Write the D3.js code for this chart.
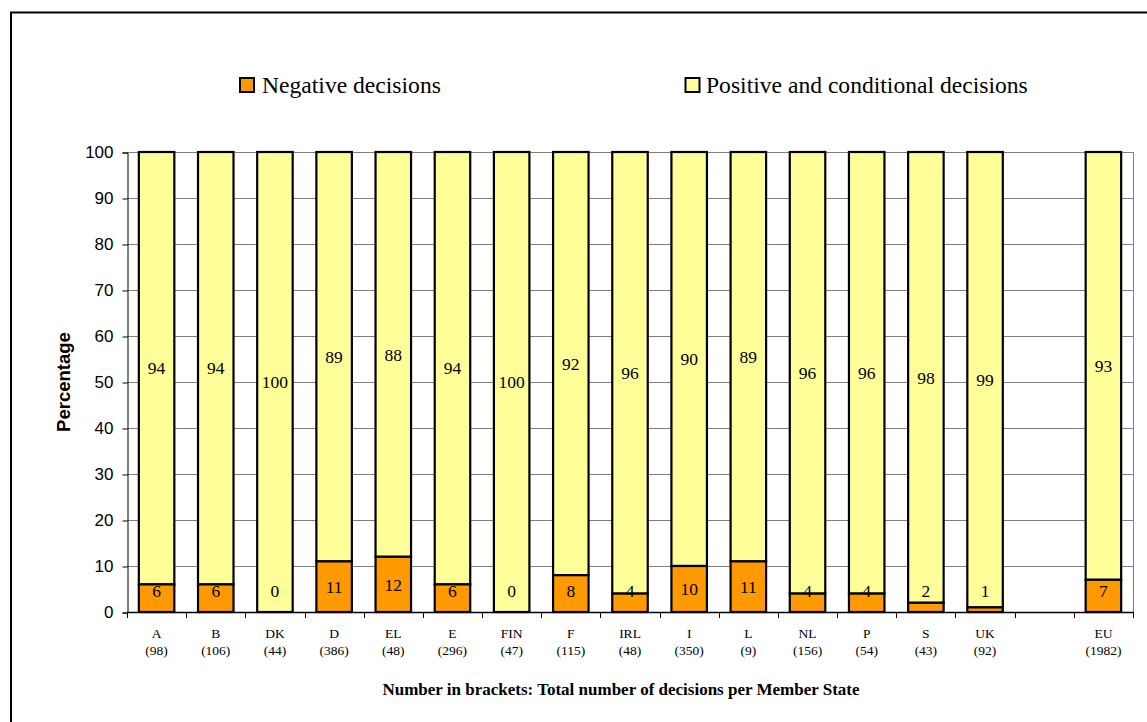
<!DOCTYPE html>
<html>
<head>
<meta charset="utf-8">
<script src="https://cdn.jsdelivr.net/npm/d3@7"></script>
<style>
  html, body { margin: 0; padding: 0; background: #fff; }
  svg { display: block; }
  .sans { font-family: "Liberation Sans", Arial, Helvetica, sans-serif; }
</style>
</head>
<body>
<svg id="chart" width="1147" height="722"></svg>
<script>
const categories = ["A","B","DK","D","EL","E","FIN","F","IRL","I","L","NL","P","S","UK","","EU"];
const totals = ["98","106","44","386","48","296","47","115","48","350","9","156","54","43","92","","1982"];
const negative = [6,6,0,11,12,6,0,8,4,10,11,4,4,2,1,null,7];
const positive = [94,94,100,89,88,94,100,92,96,90,89,96,96,98,99,null,93];
const yTicks = [0,10,20,30,40,50,60,70,80,90,100];
const seriesNames = ["Negative decisions","Positive and conditional decisions"];
const colors = ["#FF9900","#FFFF99"];

(function(){
const serifFamily = '"Liberation Serif", "Times New Roman", Times, serif';
const svg = d3.select("#chart");
function serifText(g, tx, ty, size, anchor, str, dy, bold) {
  return g.append("text").attr("x",tx).attr("y",ty)
    .attr("text-anchor",anchor).attr("dy",dy||null)
    .style("font-family",serifFamily).style("font-size",size+"px")
    .style("font-weight",bold?"bold":null).text(str);
}

svg.append("rect").attr("x",11).attr("y",12.5).attr("width",1200).attr("height",800)
  .attr("fill","none").attr("stroke","#000").attr("stroke-width",2);

const pL = 127, pR = 1133, pT = 152, pB = 612;
const x = d3.scaleBand().domain(d3.range(categories.length)).range([pL,pR]).padding(0);
const y = d3.scaleLinear().domain([0,100]).range([pB,pT]);

svg.append("g").selectAll("line").data(yTicks).join("line")
  .attr("x1",pL).attr("x2",pR)
  .attr("y1",d=>y(d)+0.5).attr("y2",d=>y(d)+0.5)
  .attr("stroke","#808080").attr("stroke-width",1);
svg.append("line").attr("x1",pR+0.5).attr("x2",pR+0.5).attr("y1",pT).attr("y2",pB)
  .attr("stroke","#808080").attr("stroke-width",1);

const yAxis = d3.axisLeft(y).tickValues(yTicks).tickSize(5).tickPadding(9);
const gy = svg.append("g").attr("transform",`translate(${pL+0.5},0.5)`).call(yAxis);
gy.attr("font-family",null).attr("font-size",null);
gy.select(".domain").attr("stroke","#000");
gy.selectAll(".tick line").attr("stroke","#000");
gy.selectAll("text").attr("class","sans").style("font-size","17px").attr("fill","#000");

const bw = 35.5;
const idx = d3.range(categories.length).filter(i => negative[i] !== null);
const gb = svg.append("g");
idx.forEach(i => {
  const cx = x(i) + x.bandwidth()/2;
  const n = negative[i], p = positive[i];
  gb.append("rect").attr("x",cx-bw/2).attr("y",y(n+p)).attr("width",bw).attr("height",y(n)-y(n+p))
    .attr("fill",colors[1]).attr("stroke","#000").attr("stroke-width",2.2);
  gb.append("rect").attr("x",cx-bw/2).attr("y",y(n)).attr("width",bw).attr("height",y(0)-y(n))
    .attr("fill",colors[0]).attr("stroke","#000").attr("stroke-width",2.2);
  serifText(gb, cx, (y(n)+y(n+p))/2, 17.5, "middle", p, "0.35em");
  serifText(gb, cx, Math.min((y(0)+y(n))/2,591), 17.5, "middle", n, "0.35em");
});

svg.append("line").attr("x1",pL).attr("x2",pR+1).attr("y1",pB+0.5).attr("y2",pB+0.5)
  .attr("stroke","#000").attr("stroke-width",1.5);
const bounds = d3.range(categories.length+1).map(i => i < categories.length ? x(i) : pR);
svg.append("g").selectAll("line").data(bounds).join("line")
  .attr("x1",d=>Math.round(d)+0.5).attr("x2",d=>Math.round(d)+0.5)
  .attr("y1",pB).attr("y2",pB+6).attr("stroke","#000").attr("stroke-width",1);
const gx = svg.append("g");
categories.forEach((c,i) => {
  const cx = x(i) + x.bandwidth()/2;
  serifText(gx, cx, 638, 13.5, "middle", c);
  if (totals[i]) serifText(gx, cx, 655, 13.5, "middle", `(${totals[i]})`);
});

serifText(svg, 621, 694.5, 17, "middle", "Number in brackets: Total number of decisions per Member State", null, true);
svg.append("text").attr("class","sans").attr("transform","translate(69.5,382) rotate(-90)").attr("text-anchor","middle")
  .style("font-weight","bold").style("font-size","18.5px").text("Percentage");

const legendPos = [{sx:240, tx:262},{sx:685.5, tx:706}];
const gl = svg.append("g");
seriesNames.forEach((s,i) => {
  gl.append("rect").attr("x",legendPos[i].sx).attr("y",78).attr("width",14).attr("height",14)
    .attr("fill",colors[i]).attr("stroke","#000").attr("stroke-width",2);
  serifText(gl, legendPos[i].tx, 93, 23.6, "start", s);
});
})();
</script>
</body>
</html>
